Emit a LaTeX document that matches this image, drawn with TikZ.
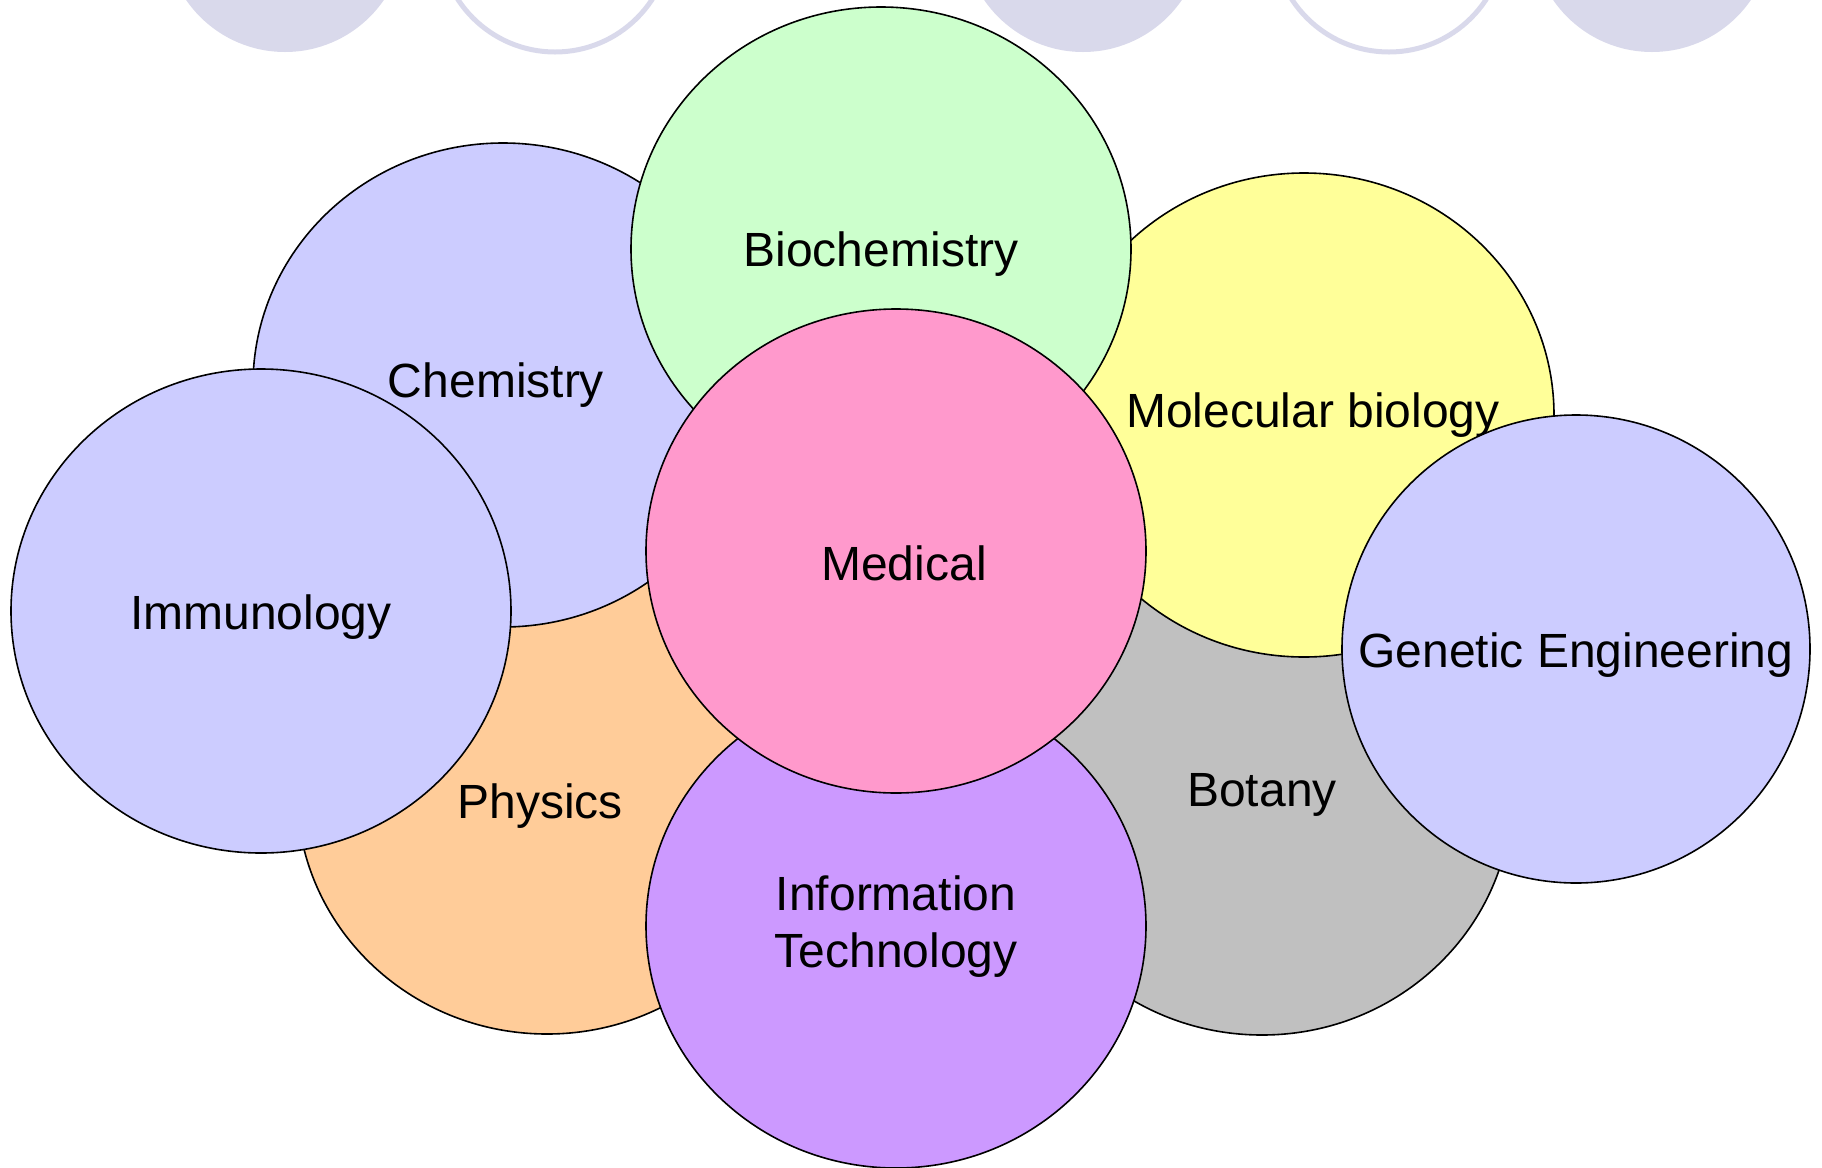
\documentclass[tikz,border=0pt]{standalone}
\usepackage{fontspec}
\setmainfont{Liberation Sans}
\usetikzlibrary{shapes.geometric}
\definecolor{decolav}{RGB}{217,217,235}
\definecolor{lavblue}{HTML}{CCCCFF}
\definecolor{mintgreen}{HTML}{CCFFCC}
\definecolor{paleyellow}{HTML}{FFFF99}
\definecolor{peach}{HTML}{FFCC99}
\definecolor{pinkmed}{HTML}{FF99CC}
\definecolor{lightgray}{HTML}{C0C0C0}
\definecolor{lilac}{HTML}{CC99FF}
\begin{document}
\begin{tikzpicture}[x=0.5pt,y=-0.5pt]
			\tikzset{disc/.style={ellipse,draw=black,line width=0.8pt,minimum width=250pt,minimum height=242pt,inner sep=0pt}}
			\tikzset{round/.style={minimum width=234pt,minimum height=234pt}}
			\tikzset{tag/.style={align=center,inner sep=0pt,font=\fontsize{24}{28.5}\selectfont}}
			\tikzset{topdisc/.style={fill=decolav}}
			\tikzset{topring/.style={draw=decolav,line width=2.5pt}}
			\useasboundingbox (0,0) rectangle (1822,1168);
			\clip (0,0) rectangle (1822,1168);
			\foreach \cx in {285,1083,1652} \fill[topdisc] (\cx,-68) circle (60pt);
			\foreach \cx in {555,1389} \draw[topring] (\cx,-64) circle (58pt);
			\node[disc,fill=peach,label={[tag,xshift=-3.5pt,yshift=-7pt]center:Physics}] (physics) at (547,792) {};
			\node[disc,fill=lightgray,label={[tag,yshift=-1pt]center:Botany}] (botany) at (1262,793) {};
			\node[disc,fill=lavblue,label={[tag,xshift=-3.5pt]center:Chemistry}] (chem) at (503,385) {};
			\node[disc,fill=paleyellow,label={[tag,xshift=4.5pt]center:Molecular biology}] (molbio) at (1304,415) {};
			\node[disc,fill=lavblue,label={[tag,yshift=-3pt]center:Immunology}] (immuno) at (261,611) {};
			\node[disc,fill=mintgreen,label={[tag,yshift=-2.5pt]center:Biochemistry}] (biochem) at (881,249) {};
			\node[disc,round,fill=lavblue,label={[tag,yshift=-3pt]center:Genetic Engineering}] (geneng) at (1576,649) {};
			\node[disc,fill=lilac,label={[tag,yshift=-0.5pt]center:Information\\Technology}] (infotech) at (896,926) {};
			\node[disc,fill=pinkmed,label={[tag,xshift=4pt,yshift=-6pt]center:Medical}] (medical) at (896,551) {};
		\end{tikzpicture}
\end{document}
